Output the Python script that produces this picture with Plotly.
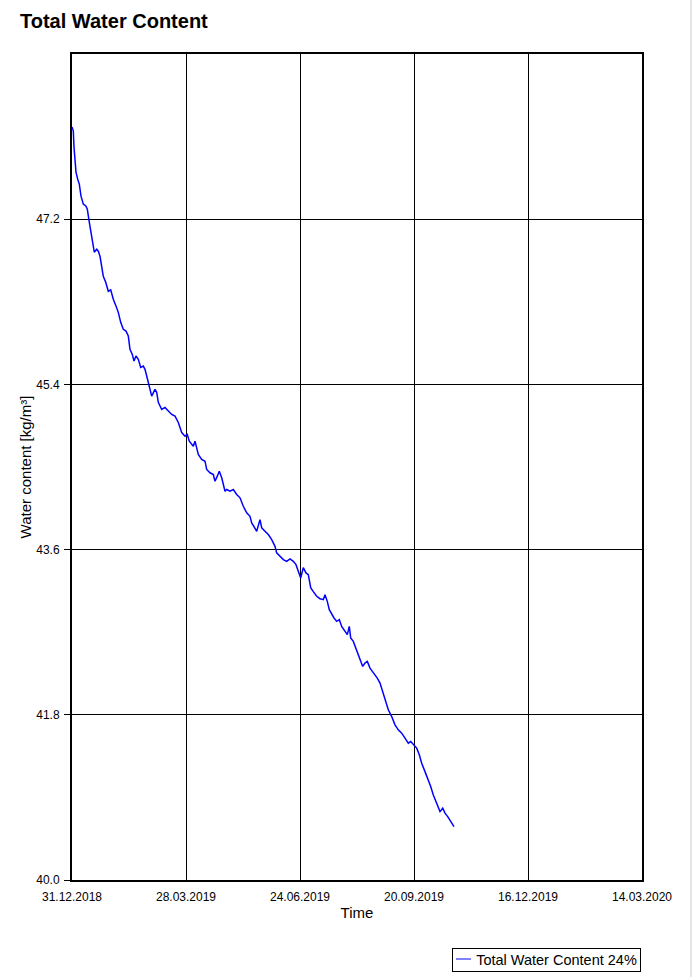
import plotly.graph_objects as go
import pandas as pd

# ---------------- data ----------------
start_date = "2018-12-31"
end_date = "2020-03-14"

# days since 31.12.2018
day_offsets = [
    0.0, 1.0, 1.54, 3.08, 4.39, 5.62, 6.93, 8.70, 10.78, 11.78, 13.32, 15.17, 16.40,
    17.17, 19.02, 20.26, 21.57, 22.87, 24.11, 25.96, 27.96, 29.81, 30.58, 31.81,
    33.89, 35.66, 37.51, 39.51, 41.59, 43.36, 44.67, 46.44, 47.75, 49.29, 51.06,
    52.91, 54.91, 56.22, 57.53, 59.53, 61.38, 63.92, 65.23, 66.47, 69.09, 71.63,
    74.17, 76.79, 79.33, 81.87, 84.49, 87.03, 88.80, 90.34, 93.42, 94.73, 96.04,
    97.27, 99.89, 102.43, 103.74, 106.28, 108.83, 110.14, 111.91, 113.45, 115.30,
    116.53, 117.84, 119.15, 121.69, 124.23, 126.85, 129.39, 131.93, 134.55, 137.09,
    138.40, 140.17, 142.25, 144.79, 146.10, 148.64, 151.18, 153.80, 156.35, 157.65,
    160.20, 162.74, 165.36, 167.90, 170.44, 172.52, 174.29, 176.14, 178.14, 180.22,
    181.99, 183.84, 185.84, 188.46, 191.00, 193.54, 194.85, 196.62, 198.16, 200.01,
    201.79, 203.87, 205.87, 207.72, 210.26, 212.03, 213.57, 214.65, 216.65, 219.27,
    221.81, 223.89, 225.66, 227.43, 229.51, 231.59, 233.36, 235.13, 237.22, 239.29,
    241.07, 243.61, 246.23, 248.77, 251.31, 253.93, 256.47, 259.01, 260.86, 262.86,
    265.48, 267.48, 269.33, 271.87, 274.42, 276.26, 278.27, 280.88, 283.43, 285.51,
    287.28, 289.36, 291.13, 293.21, 294.21,
]

water_content = [
    48.204, 48.163, 47.985, 47.713, 47.636, 47.582, 47.451, 47.364, 47.342, 47.309,
    47.167, 47.015, 46.949, 46.840, 46.873, 46.851, 46.796, 46.687, 46.578, 46.513,
    46.415, 46.430, 46.382, 46.327, 46.254, 46.185, 46.076, 46.000, 45.981, 45.927,
    45.782, 45.727, 45.654, 45.709, 45.673, 45.585, 45.600, 45.564, 45.491, 45.381,
    45.272, 45.345, 45.313, 45.204, 45.127, 45.149, 45.109, 45.073, 45.054, 44.985,
    44.876, 44.836, 44.855, 44.781, 44.727, 44.781, 44.709, 44.636, 44.582, 44.563,
    44.473, 44.437, 44.418, 44.345, 44.400, 44.454, 44.382, 44.309, 44.236, 44.255,
    44.236, 44.255, 44.200, 44.164, 44.072, 44.000, 43.963, 43.891, 43.854, 43.800,
    43.927, 43.837, 43.800, 43.764, 43.709, 43.636, 43.564, 43.527, 43.491, 43.472,
    43.499, 43.472, 43.436, 43.363, 43.291, 43.404, 43.346, 43.327, 43.185, 43.142,
    43.091, 43.065, 43.055, 43.109, 43.036, 42.945, 42.891, 42.855, 42.818, 42.836,
    42.763, 42.709, 42.673, 42.763, 42.637, 42.600, 42.509, 42.400, 42.327, 42.364,
    42.381, 42.309, 42.272, 42.236, 42.200, 42.146, 42.054, 41.964, 41.855, 41.781,
    41.691, 41.636, 41.600, 41.546, 41.491, 41.509, 41.473, 41.437, 41.364, 41.273,
    41.181, 41.091, 41.018, 40.927, 40.837, 40.745, 40.782, 40.728, 40.691, 40.655,
    40.600, 40.581,
]

x_tick_labels = ["31.12.2018", "28.03.2019", "24.06.2019", "20.09.2019", "16.12.2019", "14.03.2020"]
y_tick_values = [40.0, 41.8, 43.6, 45.4, 47.2]
y_range = [40.0, 49.0]

series_name = "Total Water Content 24%"

# ---------------- build ----------------
t0 = pd.Timestamp(start_date)
t1 = pd.Timestamp(end_date)
times = t0 + pd.to_timedelta(day_offsets, unit="D")
n_int = len(x_tick_labels) - 1
step = (t1 - t0) / n_int
x_tick_vals = [t0 + i * step for i in range(len(x_tick_labels))]

FONT = "Liberation Sans, Arial, sans-serif"
LINE_COLOR = "#0000ff"

fig = go.Figure()
fig.add_trace(go.Scatter(
    x=times, y=water_content, mode="lines", name=series_name,
    line=dict(color=LINE_COLOR, width=1.5),
    showlegend=False,
))

W, H = 693, 977
L, R, T, B = 72, 51, 54, 97
PW, PH = W - L - R, H - T - B

fig.update_layout(
    width=W, height=H,
    margin=dict(l=L, r=R, t=T, b=B, pad=0),
    paper_bgcolor="white", plot_bgcolor="white",
    font=dict(family=FONT, color="#000000", size=12),
    title=dict(
        text="<b>Total Water Content</b>",
        font=dict(family=FONT, size=20, color="#000000"),
        x=20 / W, xanchor="left", xref="container",
        y=1 - 20.5 / H, yanchor="middle", yref="container",
    ),
    showlegend=False,
    xaxis=dict(
        type="date",
        range=[t0, t1],
        tickvals=x_tick_vals, ticktext=x_tick_labels,
        showgrid=True, gridcolor="#000000", gridwidth=1,
        showline=True, linecolor="#000000", linewidth=2, mirror=True,
        ticks="", ticklabelstandoff=5,
        tickfont=dict(family=FONT, size=12, color="#000000"),
        title=dict(text="Time", font=dict(family=FONT, size=15, color="#000000"), standoff=4),
        zeroline=False,
    ),
    yaxis=dict(
        range=y_range,
        tickvals=y_tick_values, tickformat=".1f",
        showgrid=True, gridcolor="#000000", gridwidth=1,
        showline=True, linecolor="#000000", linewidth=2, mirror=True,
        ticks="outside", ticklen=6, tickcolor="#000000", tickwidth=1,
        ticklabelstandoff=2,
        tickfont=dict(family=FONT, size=12, color="#000000"),
        title=dict(text="Water content [kg/m³]", font=dict(family=FONT, size=15, color="#000000"), standoff=1),
        zeroline=False,
    ),
)

# legend box (short line sample + series name)
fig.add_annotation(
    xref="paper", yref="paper",
    x=(641 - L) / PW, xanchor="right",
    y=(880 - 972) / PH, yanchor="bottom",
    text="&nbsp;&nbsp;&nbsp;&nbsp;&nbsp;" + series_name,
    showarrow=False,
    font=dict(family=FONT, size=14.5, color="#000000"),
    bordercolor="#000000", borderwidth=1, borderpad=3,
    bgcolor="rgba(0,0,0,0)", align="left",
)
fig.add_shape(
    type="line", xref="paper", yref="paper",
    x0=(456 - L) / PW, x1=(471 - L) / PW,
    y0=(880 - 959) / PH, y1=(880 - 959) / PH,
    line=dict(color=LINE_COLOR, width=1),
)

# light border on the far right of the window
fig.add_shape(
    type="line", xref="paper", yref="paper",
    x0=(691 - L) / PW, x1=(691 - L) / PW,
    y0=(880 - 977) / PH, y1=(880 - 0) / PH,
    line=dict(color="#cccccc", width=1),
)

fig.write_html(
    "out.html",
    config={"displayModeBar": False},
    post_script="document.body.style.margin='0';document.body.style.overflow='hidden';",
)
